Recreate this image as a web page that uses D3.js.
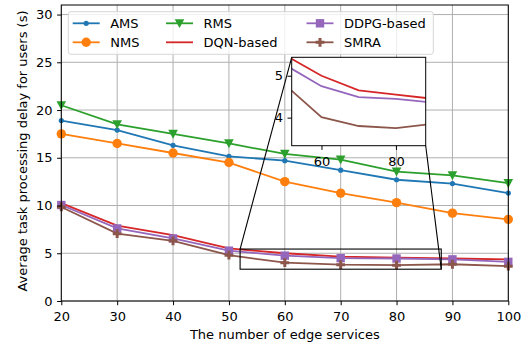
<!DOCTYPE html>
<html>
<head>
<meta charset="utf-8">
<script src="https://cdn.jsdelivr.net/npm/d3@7"></script>
<style>
  body { margin: 0; background: #fff; }
  svg { display: block; font-family: "DejaVu Sans", sans-serif; }
</style>
</head>
<body>
<div id="chart"></div>
<script>
// number of edge services on the x axis
const services = [20, 30, 40, 50, 60, 70, 80, 90, 100];
const ams  = [18.9, 17.9, 16.3, 15.15, 14.7, 13.7, 12.7, 12.3, 11.3];
const nms  = [17.5, 16.5, 15.5, 14.5, 12.5, 11.3, 10.3, 9.2, 8.55];
const rms  = [20.5, 18.5, 17.5, 16.5, 15.4, 14.8, 13.55, 13.15, 12.35];
const dqn  = [10.25, 7.9, 6.9, 5.5, 5.0, 4.65, 4.55, 4.45, 4.35];
const ddpg = [10.05, 7.6, 6.55, 5.27, 4.75, 4.49, 4.45, 4.36, 4.1];
const smra = [9.85, 7.05, 6.3, 4.8, 4.01, 3.8, 3.75, 3.85, 3.65];
const xTicks = [20, 30, 40, 50, 60, 70, 80, 90, 100];
const yTicks = [0, 5, 10, 15, 20, 25, 30];
const insetXTicks = [60, 80];
const insetYTicks = [4, 5];

const series = [
  {name: "AMS", values: ams, color: "#1f77b4", marker: "dot"},
  {name: "NMS", values: nms, color: "#ff7f0e", marker: "circle"},
  {name: "RMS", values: rms, color: "#2ca02c", marker: "tri"},
  {name: "DQN-based", values: dqn, color: "#d62728", marker: null},
  {name: "DDPG-based", values: ddpg, color: "#9467bd", marker: "square"},
  {name: "SMRA", values: smra, color: "#8c564b", marker: "plus"}
];

var W = 530, H = 346, FS = 13;
var plot = {left: 61.3, right: 508.3, top: 5, bottom: 301};

var svg = d3.select("#chart").append("svg")
  .attr("width", W).attr("height", H);

var x = d3.scaleLinear().domain([20, 100]).range([plot.left, plot.right]);
var y = d3.scaleLinear().domain([0, 31]).range([plot.bottom, plot.top]);

// grid
var grid = svg.append("g");
xTicks.forEach(function (t) {
  grid.append("line").attr("x1", x(t)).attr("x2", x(t))
    .attr("y1", plot.top).attr("y2", plot.bottom)
    .attr("stroke", "#b0b0b0").attr("stroke-width", 1);
});
yTicks.forEach(function (t) {
  grid.append("line").attr("y1", y(t)).attr("y2", y(t))
    .attr("x1", plot.left).attr("x2", plot.right)
    .attr("stroke", "#b0b0b0").attr("stroke-width", 1);
});

function drawMarker(g, type, cx, cy, color) {
  if (type === "dot") {
    g.append("circle").attr("cx", cx).attr("cy", cy).attr("r", 2.6).attr("fill", color);
  } else if (type === "circle") {
    g.append("circle").attr("cx", cx).attr("cy", cy).attr("r", 4.7).attr("fill", color);
  } else if (type === "tri") {
    var s = 4.8;
    g.append("path").attr("d", "M" + (cx - s) + "," + (cy - s * 0.85) + "L" + (cx + s) + "," + (cy - s * 0.85) + "L" + cx + "," + (cy + s) + "Z")
      .attr("fill", color);
  } else if (type === "square") {
    g.append("rect").attr("x", cx - 4.2).attr("y", cy - 4.2).attr("width", 8.4).attr("height", 8.4).attr("fill", color);
  } else if (type === "plus") {
    var a = 4.4, b = 1.5;
    g.append("path").attr("d",
      "M" + (cx - b) + "," + (cy - a) + "h" + 2 * b + "v" + (a - b) + "h" + (a - b) + "v" + 2 * b +
      "h" + (b - a) + "v" + (a - b) + "h" + (-2 * b) + "v" + (b - a) + "h" + (b - a) + "v" + (-2 * b) +
      "h" + (a - b) + "Z").attr("fill", color);
  }
}

var line = d3.line().x(function (d) { return x(d[0]); }).y(function (d) { return y(d[1]); });

series.forEach(function (s) {
  var pts = services.map(function (v, i) { return [v, s.values[i]]; });
  var g = svg.append("g");
  g.append("path").datum(pts).attr("d", line)
    .attr("fill", "none").attr("stroke", s.color).attr("stroke-width", 1.8);
  if (s.marker) pts.forEach(function (p) { drawMarker(g, s.marker, x(p[0]), y(p[1]), s.color); });
});

// frame
svg.append("rect").attr("x", plot.left).attr("y", plot.top)
  .attr("width", plot.right - plot.left).attr("height", plot.bottom - plot.top)
  .attr("fill", "none").attr("stroke", "#000").attr("stroke-width", 1);

function styleAxis(g) {
  g.select(".domain").remove();
  g.selectAll("text").attr("font-size", FS).attr("fill", "#000").attr("font-family", "DejaVu Sans");
}

// axes
svg.append("g").attr("transform", "translate(0," + plot.bottom + ")")
  .call(d3.axisBottom(x).tickValues(xTicks).tickSize(4.2).tickPadding(7))
  .call(styleAxis);
svg.append("g").attr("transform", "translate(" + plot.left + ",0)")
  .call(d3.axisLeft(y).tickValues(yTicks).tickSize(4.2).tickPadding(4.5))
  .call(styleAxis);

svg.append("text").attr("x", (plot.left + plot.right) / 2).attr("y", 338.5)
  .attr("text-anchor", "middle").attr("font-size", FS).text("The number of edge services");
svg.append("text").attr("transform", "translate(26.5," + ((plot.top + plot.bottom) / 2 - 2) + ") rotate(-90)")
  .attr("text-anchor", "middle").attr("font-size", FS).text("Average task processing delay for users (s)");

// zoomed inset
var ix = d3.scaleLinear().domain([52, 88]).range([291.7, 425.7]);
var iy = d3.scaleLinear().domain([3.33, 5.44]).range([145.7, 57.3]);

// zoom rectangle and connectors
svg.append("rect").attr("x", x(52)).attr("y", y(5.44))
  .attr("width", x(88) - x(52)).attr("height", y(3.33) - y(5.44))
  .attr("fill", "none").attr("stroke", "#000").attr("stroke-width", 1.1);
svg.append("line").attr("x1", x(52)).attr("y1", y(5.44)).attr("x2", ix(52)).attr("y2", iy(5.44))
  .attr("stroke", "#000").attr("stroke-width", 1.1);
svg.append("line").attr("x1", x(88)).attr("y1", y(3.33)).attr("x2", ix(88)).attr("y2", iy(3.33))
  .attr("stroke", "#000").attr("stroke-width", 1.1);

// legend
var leg = svg.append("g");
leg.append("rect").attr("x", 68.3).attr("y", 11.7).attr("width", 365).attr("height", 42.6)
  .attr("rx", 2.5).attr("fill", "#fff").attr("fill-opacity", 0.8)
  .attr("stroke", "#d6d6d6").attr("stroke-width", 1);
var colX = [72.7, 166, 306.5];
var rowY = [23.3, 42.3];
series.forEach(function (s, i) {
  var cx = colX[Math.floor(i / 2)], cy = rowY[i % 2];
  leg.append("line").attr("x1", cx).attr("x2", cx + 27).attr("y1", cy).attr("y2", cy)
    .attr("stroke", s.color).attr("stroke-width", 1.8);
  if (s.marker) drawMarker(leg, s.marker, cx + 13.5, cy, s.color);
  leg.append("text").attr("x", cx + 37.5).attr("y", cy + 4.7).attr("font-size", FS).text(s.name);
});

var inset = svg.append("g");
inset.append("rect").attr("x", 291.7).attr("y", 57.3).attr("width", 134).attr("height", 88.4).attr("fill", "#fff");
svg.append("clipPath").attr("id", "insetClip").append("rect")
  .attr("x", 291.7).attr("y", 57.3).attr("width", 134).attr("height", 88.4);
var iline = d3.line().x(function (d) { return ix(d[0]); }).y(function (d) { return iy(d[1]); });
series.slice(3).forEach(function (s) {
  var pts = services.map(function (v, i) { return [v, s.values[i]]; });
  inset.append("path").datum(pts).attr("d", iline).attr("clip-path", "url(#insetClip)")
    .attr("fill", "none").attr("stroke", s.color).attr("stroke-width", 1.8);
});
inset.append("rect").attr("x", 291.7).attr("y", 57.3).attr("width", 134).attr("height", 88.4)
  .attr("fill", "none").attr("stroke", "#000").attr("stroke-width", 1);
inset.append("g").attr("transform", "translate(0,145.7)")
  .call(d3.axisBottom(ix).tickValues(insetXTicks).tickFormat(d3.format("d")).tickSize(4.2).tickPadding(7))
  .call(styleAxis);
inset.append("g").attr("transform", "translate(291.7,0)")
  .call(d3.axisLeft(iy).tickValues(insetYTicks).tickFormat(d3.format("d")).tickSize(4.2).tickPadding(4.5))
  .call(styleAxis);
</script>
</body>
</html>
